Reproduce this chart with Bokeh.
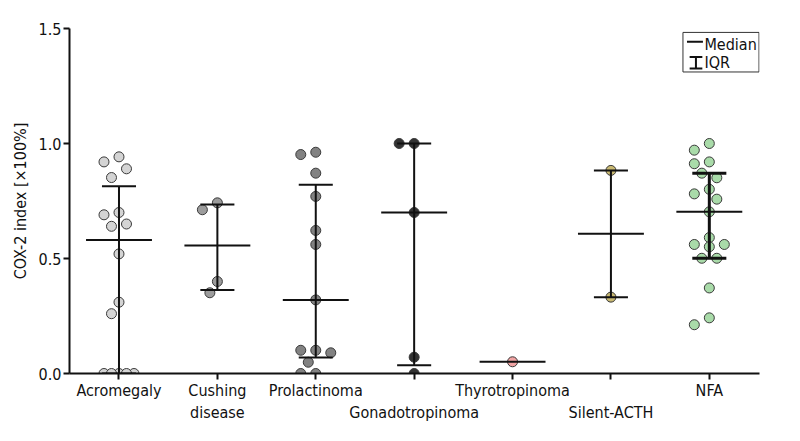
import numpy as np
from bokeh.plotting import figure
from bokeh.models import Range1d, FixedTicker
from bokeh.core.properties import value
from bokeh.embed import file_html
from bokeh.resources import INLINE

# ---- data ----
categories = ["Acromegaly", "Cushing disease", "Prolactinoma", "Gonadotropinoma",
              "Thyrotropinoma", "Silent-ACTH", "NFA"]
tick_labels = ["Acromegaly", "Cushing\ndisease", "Prolactinoma", "\nGonadotropinoma",
               "Thyrotropinoma", "\nSilent-ACTH", "NFA"]
acromegaly = [0.942, 0.92, 0.89, 0.852, 0.70, 0.69, 0.65, 0.64, 0.52, 0.31, 0.26, 0.0, 0.0, 0.0, 0.0, 0.0]
cushing = [0.742, 0.712, 0.40, 0.351]
prolactinoma = [0.962, 0.952, 0.871, 0.77, 0.622, 0.561, 0.32, 0.101, 0.101, 0.09, 0.049, 0.0, 0.0]
gonadotropinoma = [1.0, 1.0, 0.70, 0.071, 0.0]
thyrotropinoma = [0.051]
silent_acth = [0.883, 0.332]
nfa = [1.0, 0.971, 0.92, 0.912, 0.871, 0.851, 0.801, 0.781, 0.758, 0.703, 0.591, 0.561, 0.561,
       0.551, 0.501, 0.501, 0.372, 0.242, 0.212]
groups = [acromegaly, cushing, prolactinoma, gonadotropinoma, thyrotropinoma, silent_acth, nfa]
fill_colors = ["#d4d4d4", "#9c9c9c", "#828282", "#333333", "#f2a4a4", "#c9b972", "#a9dba9"]
y_ticks = [0.0, 0.5, 1.0, 1.5]

FONT = "'DejaVu Sans Condensed', 'Liberation Sans Narrow', 'Roboto Condensed', 'Noto Sans', sans-serif"
FS = "16px"

# ---- layout ----
W, H = 800, 441
BL, BR, BT, BB = 69, 41, 28, 68
x0, x1 = -0.503, 6.510
y0, y1 = 0.0, 1.5
fw, fh = W - BL - BR, H - BT - BB
px_x = fw / (x1 - x0)
px_y = fh / (y1 - y0)

p = figure(width=W, height=H, x_range=Range1d(x0, x1), y_range=Range1d(y0, y1),
           output_backend="svg", toolbar_location=None,
           min_border_left=BL, min_border_right=BR, min_border_top=BT, min_border_bottom=BB)
p.outline_line_color = None
p.xgrid.grid_line_color = None
p.ygrid.grid_line_color = None


def quantile(vals, q):
    s = np.sort(np.asarray(vals, dtype=float))
    n = len(s)
    r = (n + 1) * q
    if r <= 1:
        return s[0]
    if r >= n:
        return s[-1]
    lo = int(np.floor(r))
    frac = r - lo
    return s[lo - 1] + frac * (s[lo] - s[lo - 1])


def swarm(vals, step=7.5, diam=12.0, max_steps=3):
    cands = [0.0]
    for k in range(1, max_steps + 1):
        cands += [-k * step, k * step]
    placed = []
    out = []
    for v in vals:
        yv = v * px_y
        best, best_d = None, -1
        chosen = None
        for c in cands:
            d = min([np.hypot(c - px, yv - py) for px, py in placed] or [1e9])
            if d >= diam:
                chosen = c
                break
            if d > best_d + 1e-9:
                best, best_d = c, d
        if chosen is None:
            chosen = best
        placed.append((chosen, yv))
        out.append(chosen / px_x)
    return out


med_half = 0.335
cap_half = 0.173

for i, vals in enumerate(groups):
    offs = swarm(vals)
    xs = [i + o for o in offs]
    p.scatter(xs, vals, size=10, marker="circle", fill_color=fill_colors[i],
              line_color="#3a3a3a", line_width=1)

for i, vals in enumerate(groups):
    med = float(np.median(vals))
    p.segment(x0=[i - med_half], y0=[med], x1=[i + med_half], y1=[med],
              line_color="#111111", line_width=2)
    if len(vals) > 1:
        q1, q3 = quantile(vals, 0.25), quantile(vals, 0.75)
        lw = 3 if i == len(groups) - 1 else 2
        p.segment(x0=[i, i - cap_half, i - cap_half], y0=[q1, q1, q3],
                  x1=[i, i + cap_half, i + cap_half], y1=[q3, q1, q3],
                  line_color="#111111", line_width=lw)

# ---- legend (drawn) ----
p.quad(left=[5.732], right=[6.505], bottom=[1.311], top=[1.483],
       fill_color="white", line_color="#333333", line_width=1)
p.segment(x0=[5.773], y0=[1.442], x1=[5.935], y1=[1.442], line_color="#111111", line_width=2)
p.segment(x0=[5.864, 5.80, 5.80], y0=[1.326, 1.326, 1.3765],
          x1=[5.864, 5.929, 5.929], y1=[1.3765, 1.326, 1.3765],
          line_color="#111111", line_width=2)
p.text(x=[5.950, 5.950], y=[1.432, 1.354], text=["Median", "IQR"],
       text_font=value(FONT), text_font_size=FS, text_baseline="middle",
       text_align="left", text_color="#111111")

# ---- axes ----
p.xaxis.ticker = FixedTicker(ticks=list(range(len(categories))))
p.xaxis.major_label_overrides = {i: t for i, t in enumerate(tick_labels)}
p.xaxis.minor_tick_line_color = None
p.xaxis.major_tick_out = 6
p.xaxis.major_tick_in = 0
p.xaxis.major_label_standoff = 1

p.yaxis.ticker = FixedTicker(ticks=y_ticks)
p.yaxis.major_label_overrides = {t: f"{t:.1f}" for t in y_ticks}
p.yaxis.minor_tick_line_color = None
p.yaxis.major_tick_out = 6
p.yaxis.major_tick_in = 0
p.yaxis.major_label_standoff = 2
p.yaxis.axis_label = "COX-2 index [×100%]"
p.yaxis.axis_label_standoff = 6

for ax in (p.xaxis, p.yaxis):
    ax.axis_line_width = 2
    ax.axis_line_color = "#111111"
    ax.major_tick_line_width = 2
    ax.major_tick_line_color = "#111111"
    ax.major_label_text_font = FONT
    ax.major_label_text_font_size = FS
    ax.major_label_text_color = "#111111"
    ax.axis_label_text_font = FONT
    ax.axis_label_text_font_size = FS
    ax.axis_label_text_font_style = "normal"
    ax.axis_label_text_color = "#111111"

open("out.html", "w").write(file_html(p, INLINE))
